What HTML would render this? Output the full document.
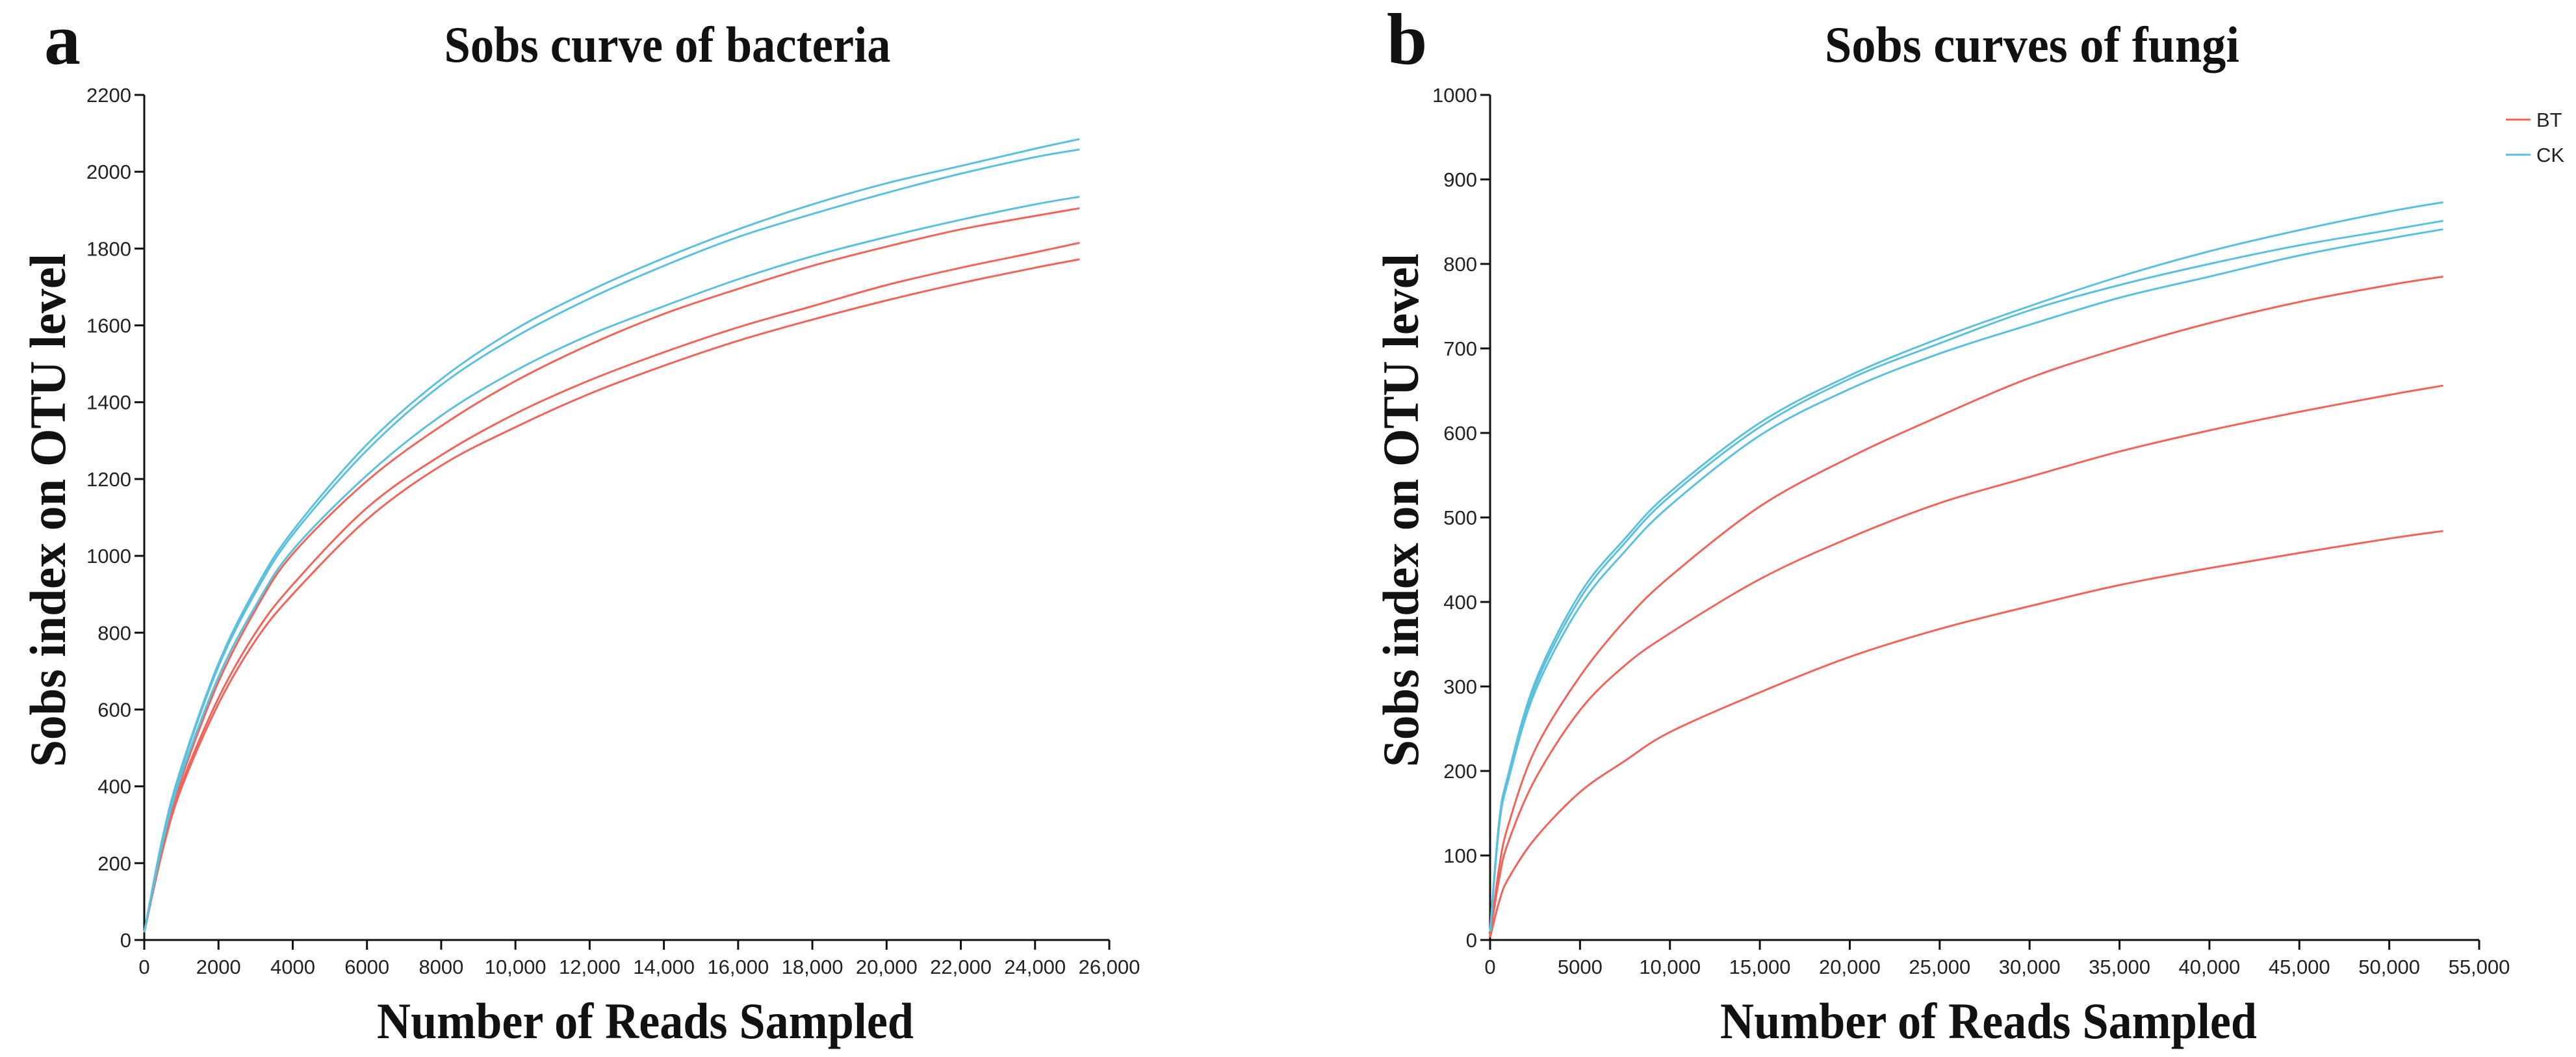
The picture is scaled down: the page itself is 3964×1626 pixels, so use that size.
<!DOCTYPE html>
<html><head><meta charset="utf-8"><style>
html,body{margin:0;padding:0;background:#fff;}
svg{display:block;}
.tick{font-family:"Liberation Sans",sans-serif;font-size:31px;fill:#222;}
.ttl{font-family:"Liberation Serif",serif;font-weight:bold;fill:#111;}
</style></head><body>
<svg id="svg" width="3964" height="1626" viewBox="0 0 3964 1626" xmlns="http://www.w3.org/2000/svg">
<text class="ttl" x="68" y="98" font-size="112">a</text>
<text class="ttl" x="1027" y="95" font-size="78" text-anchor="middle" textLength="687" lengthAdjust="spacingAndGlyphs">Sobs curve of bacteria</text>
<text class="ttl" x="100" y="785" font-size="78" text-anchor="middle" textLength="790" lengthAdjust="spacingAndGlyphs" transform="rotate(-90 100 785)">Sobs index on OTU level</text>
<text class="ttl" x="993" y="1597" font-size="78" text-anchor="middle" textLength="826" lengthAdjust="spacingAndGlyphs">Number of Reads Sampled</text>
<text class="ttl" x="2134" y="98" font-size="112">b</text>
<text class="ttl" x="3127" y="95" font-size="78" text-anchor="middle" textLength="638" lengthAdjust="spacingAndGlyphs">Sobs curves of fungi</text>
<text class="ttl" x="2182" y="785" font-size="78" text-anchor="middle" textLength="790" lengthAdjust="spacingAndGlyphs" transform="rotate(-90 2182 785)">Sobs index on OTU level</text>
<text class="ttl" x="3060" y="1597" font-size="78" text-anchor="middle" textLength="826" lengthAdjust="spacingAndGlyphs">Number of Reads Sampled</text>
<g>
<line x1="3856" y1="184" x2="3894" y2="184" stroke="#f0645a" stroke-width="3"/>
<text class="tick" x="3903" y="195" font-size="30">BT</text>
<line x1="3856" y1="238" x2="3894" y2="238" stroke="#5bc0de" stroke-width="3"/>
<text class="tick" x="3903" y="249" font-size="30">CK</text>
</g>
</svg>
<script>
const RED="#f0645a", BLUE="#5bc0de";
const bacX=[0,500,1000,2000,3000,4000,6000,8000,10000,12000,14000,16000,18000,20000,22000,24000,25200];
const bacCK1=[20,270,450,720,915,1065,1290,1460,1590,1690,1775,1850,1915,1970,2015,2060,2085];
const bacCK2=[20,265,445,712,905,1055,1275,1445,1570,1670,1755,1830,1890,1945,1995,2038,2058];
const bacCK3=[20,255,430,685,870,1015,1210,1365,1482,1575,1650,1720,1780,1830,1875,1915,1935];
const bacBT1=[20,250,420,672,860,1005,1195,1338,1455,1550,1630,1695,1755,1805,1850,1885,1905];
const bacBT2=[20,240,405,630,800,925,1125,1262,1370,1457,1530,1595,1650,1705,1750,1790,1815];
const bacBT3=[20,235,395,615,780,900,1095,1235,1335,1422,1495,1560,1615,1665,1710,1750,1772];
const bacYTicks=[0,200,400,600,800,1000,1200,1400,1600,1800,2000,2200];
const bacXTicks=[0,2000,4000,6000,8000,10000,12000,14000,16000,18000,20000,22000,24000,26000];
const bacXLabels=["0","2000","4000","6000","8000","10,000","12,000","14,000","16,000","18,000","20,000","22,000","24,000","26,000"];
const funX=[0,500,1000,2500,5000,7500,10000,15000,20000,25000,30000,35000,40000,45000,50000,53000];
const funCK1=[10,140,195,305,410,475,530,612,668,712,750,785,815,840,862,873];
const funCK2=[10,137,192,300,404,470,525,607,664,706,745,775,800,822,840,851];
const funCK3=[10,134,188,294,395,460,514,597,652,694,728,760,785,810,830,841];
const funBT1=[5,85,135,225,312,378,430,513,571,620,665,700,730,755,775,785];
const funBT2=[5,72,115,190,272,325,363,427,476,517,548,578,603,625,645,656];
const funBT3=[3,45,72,120,175,212,246,293,335,368,395,420,440,458,475,484];
const funYTicks=[0,100,200,300,400,500,600,700,800,900,1000];
const funXTicks=[0,5000,10000,15000,20000,25000,30000,35000,40000,45000,50000,55000];
const funXLabels=["0","5000","10,000","15,000","20,000","25,000","30,000","35,000","40,000","45,000","50,000","55,000"];

const svg=document.getElementById('svg');
const NS="http://www.w3.org/2000/svg";
function mk(tag,attrs,parent){const e=document.createElementNS(NS,tag);for(const k in attrs)e.setAttribute(k,attrs[k]);(parent||svg).appendChild(e);return e;}

function chart(o){
  const g=mk('g',{});
  
  
  const sx=v=>o.x0+(v-o.xmin)/(o.xmax-o.xmin)*(o.x1-o.x0);
  const sy=v=>o.y0-(v/o.ymax)*(o.y0-o.y1);
  const ax=mk('path',{d:`M${o.x0},${o.y1}V${o.y0}H${o.x1}`,fill:'none',stroke:'#111','stroke-width':3},g);
  
  
  o.yt.forEach(v=>{
    const t=mk('line',{x1:o.x0-15,x2:o.x0,y1:sy(v),y2:sy(v),stroke:'#111','stroke-width':3},g);
    
    
    const l=mk('text',{x:o.x0-20,y:sy(v)+11,'text-anchor':'end',class:'tick'},g);
    l.textContent=String(v);
    
    
  });
  o.xt.forEach((v,i)=>{
    const t=mk('line',{x1:sx(v),x2:sx(v),y1:o.y0,y2:o.y0+15,stroke:'#111','stroke-width':3},g);
    
    
    const l=mk('text',{x:sx(v),y:o.y0+52,'text-anchor':'middle',class:'tick'},g);
    l.textContent=o.xl[i];
    
    
  });
  o.series.forEach(s=>{
    const pts=o.xs.map((x,i)=>[sx(x),sy(s.v[i])]);
    let d=`M${pts[0][0]},${pts[0][1]}`;
    for(let i=0;i<pts.length-1;i++){
      const p0=pts[Math.max(i-1,0)],p1=pts[i],p2=pts[i+1],p3=pts[Math.min(i+2,pts.length-1)];
      const c1=[p1[0]+(p2[0]-p0[0])/6,p1[1]+(p2[1]-p0[1])/6];
      const c2=[p2[0]-(p3[0]-p1[0])/6,p2[1]-(p3[1]-p1[1])/6];
      d+=`C${c1[0]},${c1[1]} ${c2[0]},${c2[1]} ${p2[0]},${p2[1]}`;
    }
    const p=mk('path',{d:d,fill:'none',stroke:s.c,'stroke-width':3},g);
    
    
  });
}
chart({name:'bacteria-chart',x0:222,x1:1707,y0:1446,y1:146,xmin:0,xmax:26000,ymax:2200,
  yt:bacYTicks,xt:bacXTicks,xl:bacXLabels,xs:bacX,
  series:[{n:'bt-line-3',c:RED,v:bacBT3},{n:'bt-line-2',c:RED,v:bacBT2},{n:'bt-line-1',c:RED,v:bacBT1},
          {n:'ck-line-3',c:BLUE,v:bacCK3},{n:'ck-line-2',c:BLUE,v:bacCK2},{n:'ck-line-1',c:BLUE,v:bacCK1}]});
chart({name:'fungi-chart',x0:2293,x1:3815,y0:1446,y1:146,xmin:0,xmax:55000,ymax:1000,
  yt:funYTicks,xt:funXTicks,xl:funXLabels,xs:funX,
  series:[{n:'bt-line-3',c:RED,v:funBT3},{n:'bt-line-2',c:RED,v:funBT2},{n:'bt-line-1',c:RED,v:funBT1},
          {n:'ck-line-3',c:BLUE,v:funCK3},{n:'ck-line-2',c:BLUE,v:funCK2},{n:'ck-line-1',c:BLUE,v:funCK1}]});
</script>
</body></html>
